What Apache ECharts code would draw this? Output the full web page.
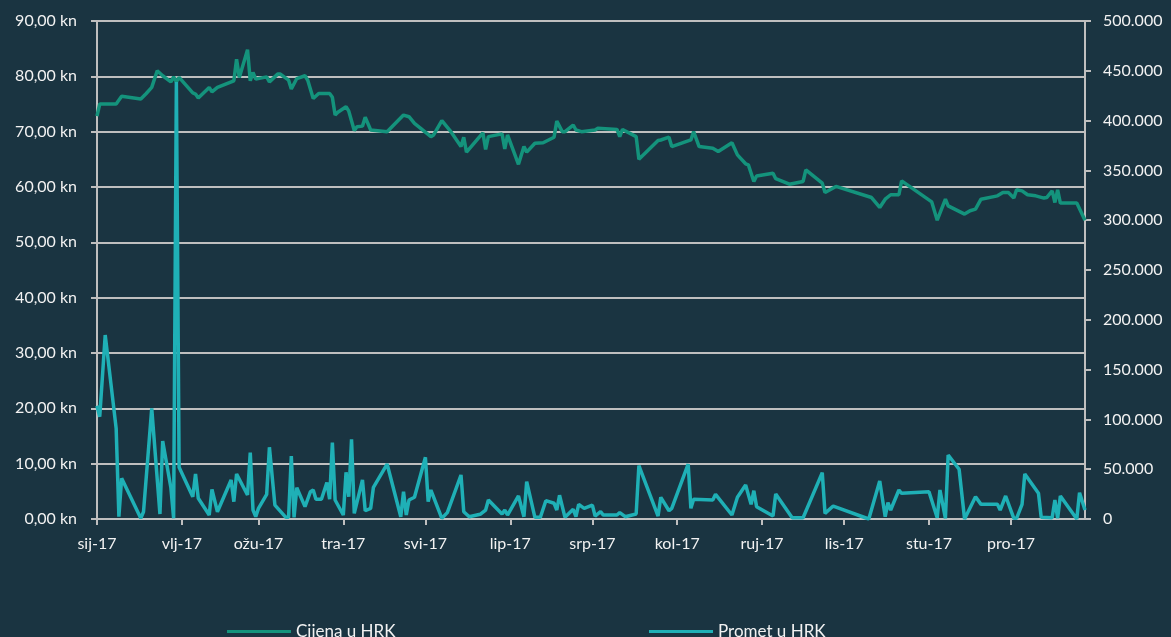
<!DOCTYPE html>
<html>
<head>
<meta charset="utf-8">
<title>Cijena i promet 2017</title>
<script src="https://cdn.jsdelivr.net/npm/echarts@6/dist/echarts.min.js"></script>
<style>
  html, body { margin: 0; padding: 0; background: #1A3441; }
  #main { width: 1171px; height: 637px; }
</style>
</head>
<body>
<div id="main"></div>
<script>
// month abbreviations (Croatian) used for the x axis labels
var months = ['sij', 'vlj', 'ožu', 'tra', 'svi', 'lip', 'srp', 'kol', 'ruj', 'lis', 'stu', 'pro'];
var monthStartDays = [0, 31, 59, 90, 120, 151, 181, 212, 243, 273, 304, 334];

// price in HRK, day = day of year 2017 (0 = 1 Jan)
var priceDays = [0, 1, 7, 9, 16, 18, 20, 22, 24, 27, 28, 29, 30, 35, 36, 37, 41, 42, 44, 50,
    51, 52, 55, 56, 57, 58, 62, 63, 66, 67, 70, 71, 73, 76, 77, 79, 81, 85, 86, 87,
    88, 91, 92, 94, 95, 97, 98, 100, 106, 112, 114, 116, 122, 123, 126, 129, 133, 134, 135, 141,
    142, 143, 148, 149, 150, 154, 156, 157, 160, 163, 165, 167, 168, 170, 171, 174, 175, 177, 182, 183,
    190, 191, 192, 197, 198, 205, 206, 209, 210, 217, 218, 220, 225, 227, 232, 234, 237, 238, 240, 241,
    247, 248, 253, 258, 259, 265, 266, 270, 283, 286, 288, 290, 293, 294, 305, 307, 310, 311, 317, 319,
    321, 323, 329, 331, 333, 335, 336, 338, 340, 343, 346, 347, 349, 350, 351, 352, 358, 361];
var priceHRK = [72.8, 75.0, 75.0, 76.4, 75.9, 76.9, 78.0, 81.0, 80.1, 79.0, 79.9, 79.0, 79.8, 77.0, 76.8, 76.1, 78.0, 77.2, 78.0, 79.2,
    83.1, 79.8, 84.8, 79.2, 80.7, 79.5, 79.9, 79.0, 80.4, 80.4, 79.3, 77.7, 79.6, 80.1, 79.3, 76.0, 76.9, 76.9, 76.2, 73.0,
    73.5, 74.5, 73.7, 70.2, 70.9, 71.0, 72.6, 70.3, 70.0, 73.0, 72.7, 71.5, 69.1, 69.4, 72.0, 70.2, 67.3, 69.0, 66.3, 69.8,
    66.8, 69.1, 69.6, 66.9, 69.4, 64.1, 67.3, 66.3, 67.9, 68.0, 68.5, 69.0, 71.9, 70.0, 70.0, 71.2, 70.3, 70.0, 70.3, 70.6,
    70.4, 69.1, 70.4, 69.1, 65.0, 68.4, 68.5, 69.0, 67.3, 68.5, 70.0, 67.3, 67.0, 66.4, 68.0, 65.8, 64.2, 64.0, 61.0, 62.0,
    62.5, 61.5, 60.5, 61.0, 63.1, 60.7, 59.0, 60.1, 58.1, 56.3, 57.8, 58.6, 58.6, 61.1, 57.3, 54.0, 57.8, 56.6, 55.1, 55.7,
    56.0, 57.8, 58.4, 59.0, 59.0, 58.0, 59.5, 59.3, 58.6, 58.4, 58.0, 58.1, 59.3, 57.2, 59.5, 57.1, 57.1, 54.0];

// turnover in HRK
var turnoverDays = [0, 1, 3, 7, 8, 9, 16, 17, 20, 23, 24, 27, 28, 29, 30, 35, 36, 37, 41, 42,
    44, 49, 50, 51, 55, 56, 57, 58, 59, 62, 63, 65, 69, 70, 71, 72, 73, 76, 78, 79,
    80, 82, 84, 85, 86, 87, 90, 91, 92, 93, 94, 97, 98, 100, 101, 106, 111, 112, 113, 114,
    116, 120, 121, 122, 126, 128, 133, 134, 136, 140, 142, 143, 148, 149, 150, 154, 156, 157, 160, 162,
    164, 167, 168, 169, 171, 174, 175, 176, 178, 181, 182, 184, 185, 190, 191, 193, 197, 198, 205, 206,
    209, 210, 216, 217, 218, 225, 226, 232, 234, 237, 239, 240, 241, 247, 248, 254, 258, 265, 266, 269,
    282, 286, 288, 289, 290, 293, 294, 304, 307, 308, 310, 311, 315, 317, 321, 323, 329, 330, 332, 335,
    336, 338, 339, 344, 345, 349, 350, 351, 352, 358, 359, 361];
var turnoverHRK = [113700, 102700, 184700, 91000, 2300, 40900, 700, 7300, 111000, 5000, 78300, 31400, 700, 438700, 51900, 22400, 45200, 20800, 4000, 29800,
    7300, 39200, 17400, 45200, 24100, 66600, 9000, 2300, 10700, 24800, 72000, 14000, 1700, 1700, 63300, 1700, 31400, 12400, 27400, 29100,
    19800, 19800, 36500, 19800, 76600, 19100, 4000, 46900, 22400, 80000, 5700, 39200, 8300, 10700, 31800, 55200, 2300, 27400, 4000, 19100,
    21800, 62000, 17400, 29100, 700, 6400, 44200, 7300, 2300, 4700, 9000, 19100, 5000, 9000, 4000, 23100, 2300, 37500, 1700, 1700,
    18400, 15800, 9000, 23800, 1700, 9700, 2300, 14700, 10700, 14000, 3000, 7300, 4000, 4000, 6400, 2300, 5000, 53500, 3000, 21800,
    8300, 10700, 55200, 10700, 19800, 19100, 24800, 4000, 21800, 34100, 14700, 28400, 12400, 3000, 25100, 1300, 1300, 46500, 5700, 13000,
    0, 38200, 2300, 16400, 9000, 29100, 25800, 27400, 1300, 29100, 700, 64300, 49900, 0, 22400, 14700, 14700, 9000, 23100, 700,
    700, 14700, 45200, 25800, 1700, 1300, 19000, 700, 23100, 0, 26400, 9000];

var priceData = priceDays.map(function (d, i) { return [d, priceHRK[i]]; });
var turnoverData = turnoverDays.map(function (d, i) { return [d, turnoverHRK[i]]; });

var gridColor = '#BFBFBF';
var textColor = '#F2F2F2';
var font = 'Lato';
var priceColor = '#14937C';
var turnoverColor = '#1FB0B6';

var myChart = echarts.init(document.getElementById('main'));

var option = {
    backgroundColor: '#1A3441',
    animation: false,
    textStyle: { fontFamily: font },
    grid: { left: 97, right: 86, top: 21, bottom: 118, containLabel: false },
    legend: [{
        data: ['Cijena u HRK'],
        left: 222,
        top: 618,
        icon: 'rect',
        itemWidth: 64,
        itemHeight: 3,
        textStyle: { color: textColor, fontSize: 17, fontFamily: font }
    }, {
        data: ['Promet u HRK'],
        left: 644,
        top: 618,
        icon: 'rect',
        itemWidth: 64,
        itemHeight: 3,
        textStyle: { color: textColor, fontSize: 17, fontFamily: font }
    }],
    xAxis: {
        type: 'value',
        min: 0,
        max: 361,
        splitLine: { show: false },
        axisLine: { lineStyle: { color: gridColor, width: 2 } },
        axisTick: { show: true, customValues: monthStartDays, length: 6, lineStyle: { color: gridColor, width: 2 } },
        axisLabel: {
            customValues: monthStartDays,
            color: textColor,
            fontSize: 16,
            margin: 17,
            formatter: function (value) {
                return months[monthStartDays.indexOf(value)] + '-17';
            }
        }
    },
    yAxis: [{
        type: 'value',
        min: 0,
        max: 90,
        interval: 10,
        position: 'left',
        axisLine: { show: true, lineStyle: { color: gridColor, width: 2 } },
        axisTick: { show: true, length: 6, lineStyle: { color: gridColor, width: 2 } },
        splitLine: { show: true, lineStyle: { color: gridColor, width: 2 } },
        axisLabel: {
            color: textColor,
            fontSize: 16,
            margin: 20,
            formatter: function (v) { return v.toFixed(2).replace('.', ',') + ' kn'; }
        }
    }, {
        type: 'value',
        min: 0,
        max: 500000,
        interval: 50000,
        position: 'right',
        axisLine: { show: true, lineStyle: { color: gridColor, width: 2 } },
        axisTick: { show: true, length: 6, lineStyle: { color: gridColor, width: 2 } },
        splitLine: { show: false },
        axisLabel: {
            color: textColor,
            fontSize: 16,
            margin: 18,
            formatter: function (v) { return String(v).replace(/\B(?=(\d{3})+(?!\d))/g, '.'); }
        }
    }],
    series: [{
        name: 'Cijena u HRK',
        type: 'line',
        yAxisIndex: 0,
        symbol: 'none',
        color: priceColor,
        lineStyle: { width: 3.5, color: priceColor },
        data: priceData
    }, {
        name: 'Promet u HRK',
        type: 'line',
        yAxisIndex: 1,
        symbol: 'none',
        color: turnoverColor,
        lineStyle: { width: 3.5, color: turnoverColor },
        data: turnoverData
    }]
};

myChart.setOption(option);
window.onresize = function () {
    myChart.resize();
};
</script>
</body>
</html>
